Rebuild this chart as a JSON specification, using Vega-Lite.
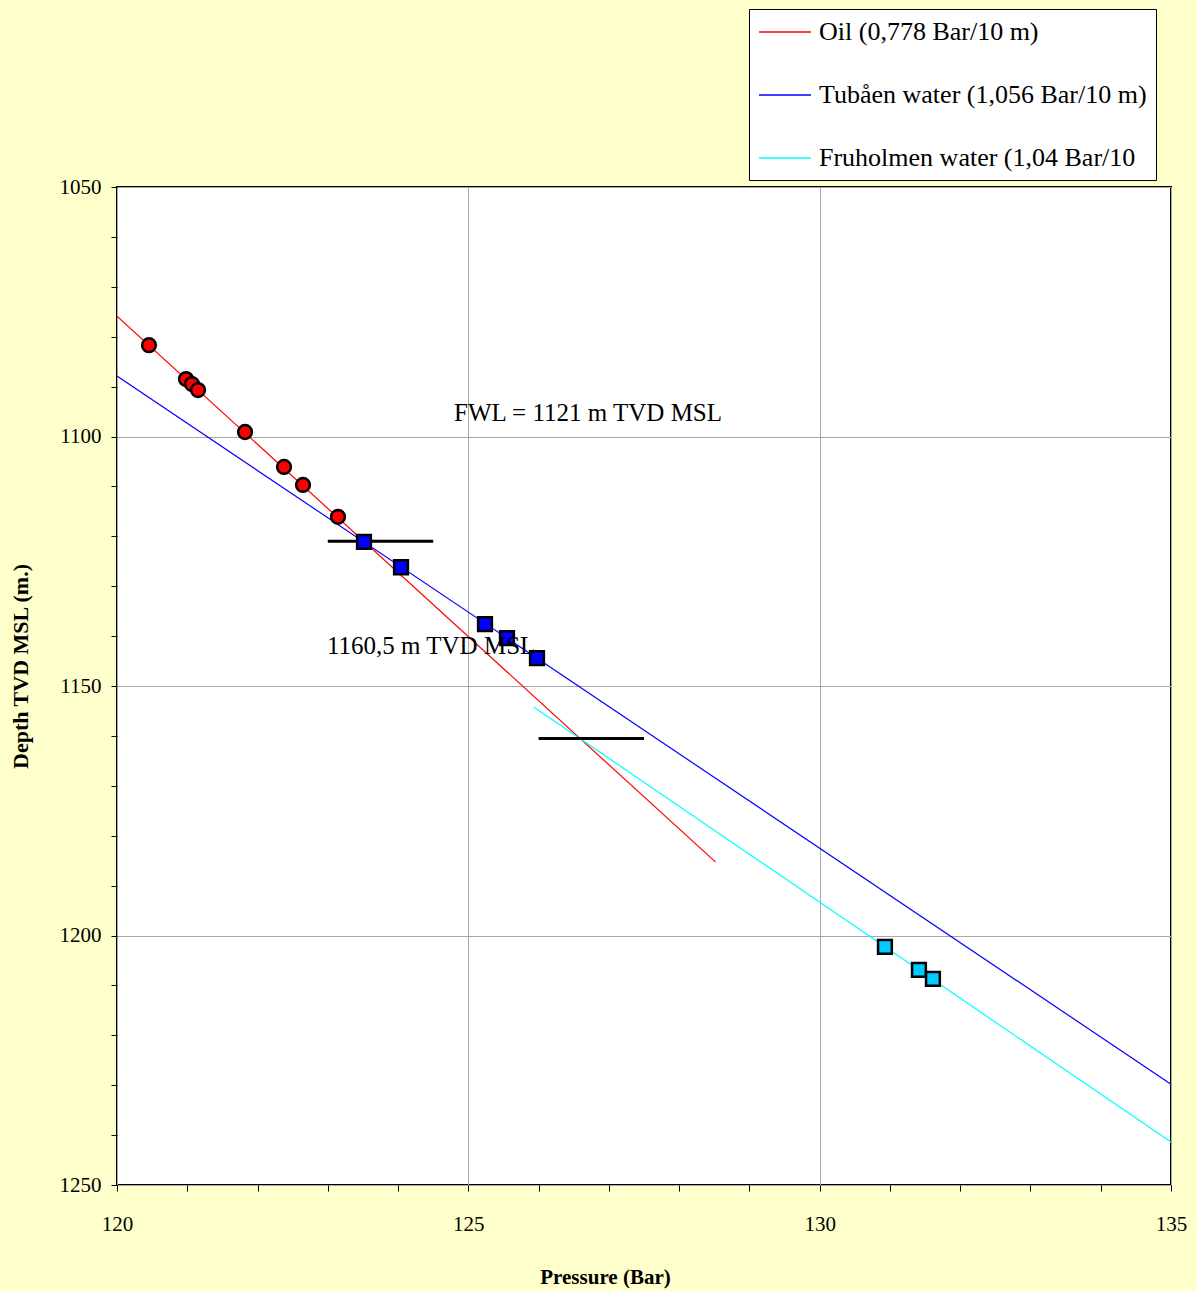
{
  "$schema": "https://vega.github.io/schema/vega-lite/v6.json",
  "width": 1054,
  "height": 998,
  "autosize": {"type": "none"},
  "padding": {"left": 117, "top": 187, "right": 26, "bottom": 106},
  "background": "#FFFFCC",
  "config": {
    "font": "Liberation Serif",
    "view": {"fill": "white", "stroke": "black", "strokeWidth": 2},
    "axis": {"labelFont": "Liberation Serif", "titleFont": "Liberation Serif", "labelColor": "black", "titleColor": "black", "tickColor": "black", "gridColor": "#A8A8A8", "gridWidth": 1, "domain": false, "tickSize": 6, "tickWidth": 1, "labelFlush": false}
  },
  "datasets": {
    "points": [
      {"p": 120.455, "d": 1081.7, "set": "Oil"},
      {"p": 120.982, "d": 1088.5, "set": "Oil"},
      {"p": 121.067, "d": 1089.5, "set": "Oil"},
      {"p": 121.153, "d": 1090.7, "set": "Oil"},
      {"p": 121.822, "d": 1099.1, "set": "Oil"},
      {"p": 122.377, "d": 1106.1, "set": "Oil"},
      {"p": 122.647, "d": 1109.7, "set": "Oil"},
      {"p": 123.145, "d": 1116.1, "set": "Oil"},
      {"p": 123.515, "d": 1121.1, "set": "Tubåen"},
      {"p": 124.042, "d": 1126.2, "set": "Tubåen"},
      {"p": 125.237, "d": 1137.6, "set": "Tubåen"},
      {"p": 125.55, "d": 1140.4, "set": "Tubåen"},
      {"p": 125.977, "d": 1144.4, "set": "Tubåen"},
      {"p": 130.929, "d": 1202.3, "set": "Fruholmen"},
      {"p": 131.413, "d": 1206.9, "set": "Fruholmen"},
      {"p": 131.612, "d": 1208.7, "set": "Fruholmen"}
    ],
    "lines": [
      {"p": 120.0, "d": 1075.9, "series": "Oil (0,778 Bar/10 m)"},
      {"p": 128.52, "d": 1185.3, "series": "Oil (0,778 Bar/10 m)"},
      {"p": 120.0, "d": 1087.9, "series": "Tubåen water (1,056 Bar/10 m)"},
      {"p": 135.0, "d": 1229.8, "series": "Tubåen water (1,056 Bar/10 m)"},
      {"p": 125.93, "d": 1154.2, "series": "Fruholmen water (1,04 Bar/10"},
      {"p": 135.0, "d": 1241.4, "series": "Fruholmen water (1,04 Bar/10"}
    ],
    "contacts": [
      {"p1": 123.0, "p2": 124.5, "d": 1121.0},
      {"p1": 126.0, "p2": 127.5, "d": 1160.5}
    ],
    "labels": [
      {"p": 124.796, "d": 1095.3, "text": "FWL = 1121 m TVD MSL"},
      {"p": 122.988, "d": 1142.0, "text": "1160,5 m TVD MSL"}
    ]
  },
  "layer": [
    {
      "data": {"name": "lines"},
      "mark": {"type": "line", "strokeWidth": 1.2, "clip": true},
      "encoding": {
        "x": {
          "field": "p", "type": "quantitative",
          "scale": {"domain": [120, 135], "nice": false, "zero": false},
          "axis": {
            "values": [120,121,122,123,124,125,126,127,128,129,130,131,132,133,134,135],
            "format": "d",
            "labelExpr": "datum.value % 5 === 0 ? datum.label : ''",
            "gridOpacity": {"condition": {"test": "datum.value % 5 === 0", "value": 1}, "value": 0},
            "labelFontSize": 21, "labelPadding": 22,
            "title": "Pressure (Bar)", "titleFontSize": 21, "titleFontWeight": "bold", "titlePadding": 32,
            "titleX": 488
          }
        },
        "y": {
          "field": "d", "type": "quantitative",
          "scale": {"domain": [1050, 1250], "nice": false, "zero": false, "reverse": true},
          "axis": {
            "values": [1050,1060,1070,1080,1090,1100,1110,1120,1130,1140,1150,1160,1170,1180,1190,1200,1210,1220,1230,1240,1250],
            "format": "d",
            "labelExpr": "datum.value % 50 === 0 ? datum.label : ''",
            "gridOpacity": {"condition": {"test": "datum.value % 50 === 0", "value": 1}, "value": 0},
            "labelFontSize": 21, "labelPadding": 10,
            "title": "Depth TVD MSL (m.)", "titleFontSize": 22, "titleFontWeight": "bold", "titlePadding": 27,
            "titleY": 479
          }
        },
        "color": {
          "field": "series", "type": "nominal",
          "scale": {
            "domain": ["Oil (0,778 Bar/10 m)", "Tubåen water (1,056 Bar/10 m)", "Fruholmen water (1,04 Bar/10"],
            "range": ["#FF0000", "#0000FF", "#00FFFF"]
          },
          "legend": {
            "orient": "none", "legendX": 632, "legendY": -178,
            "title": null,
            "symbolType": "M-1,0H3", "symbolSize": 676, "symbolStrokeWidth": 1.5,
            "labelFontSize": 26, "labelFont": "Liberation Serif", "labelColor": "black",
            "labelOffset": 33, "labelLimit": 0,
            "rowPadding": 36, "padding": 9,
            "fillColor": "white", "strokeColor": "black"
          }
        },
        "detail": {"field": "series"}
      }
    },
    {
      "data": {"name": "contacts"},
      "mark": {"type": "rule", "color": "black", "strokeWidth": 3},
      "encoding": {
        "x": {"field": "p1", "type": "quantitative"},
        "x2": {"field": "p2"},
        "y": {"field": "d", "type": "quantitative"}
      }
    },
    {
      "data": {"name": "points"},
      "mark": {"type": "point", "filled": true, "stroke": "black", "strokeWidth": 2.5, "size": 190, "opacity": 1},
      "encoding": {
        "x": {"field": "p", "type": "quantitative"},
        "y": {"field": "d", "type": "quantitative"},
        "fill": {
          "field": "set", "type": "nominal",
          "scale": {
            "domain": ["Oil", "Tubåen", "Fruholmen"],
            "range": ["#FF0000", "#0000FF", "#00CCFF"]
          },
          "legend": null
        },
        "shape": {
          "field": "set", "type": "nominal",
          "scale": {
            "domain": ["Oil", "Tubåen", "Fruholmen"],
            "range": ["circle", "square", "square"]
          },
          "legend": null
        }
      }
    },
    {
      "data": {"name": "labels"},
      "mark": {"type": "text", "align": "left", "baseline": "middle", "fontSize": 25, "font": "Liberation Serif", "color": "black"},
      "encoding": {
        "x": {"field": "p", "type": "quantitative"},
        "y": {"field": "d", "type": "quantitative"},
        "text": {"field": "text"}
      }
    }
  ]
}
